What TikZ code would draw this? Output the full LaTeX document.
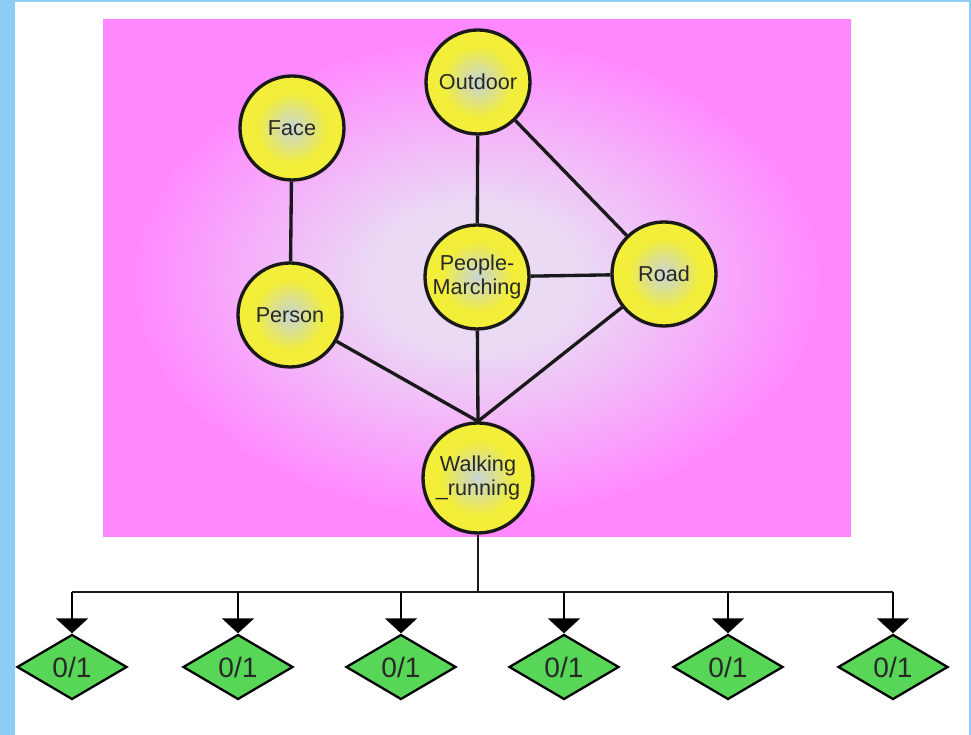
\documentclass[tikz,border=0pt]{standalone}
\usepackage{fontspec}
\setmainfont{Liberation Sans}
\usetikzlibrary{shapes.geometric,arrows.meta}

\definecolor{framecol}{RGB}{140,204,245}
\definecolor{bgin}{RGB}{234,218,244}
\definecolor{bgout}{RGB}{255,136,255}
\definecolor{ballin}{RGB}{200,212,212}
\definecolor{ballout}{RGB}{242,238,58}
\definecolor{leafcol}{RGB}{88,214,88}
\definecolor{labelcol}{RGB}{40,40,40}

\pgfdeclareradialshading{bgshade}{\pgfpoint{0bp}{0bp}}%
  {color(0bp)=(bgin); color(7bp)=(bgin); color(23bp)=(bgout); color(50bp)=(bgout)}
\pgfdeclareradialshading{ballshade}{\pgfpoint{0bp}{0bp}}%
  {color(0bp)=(ballin); color(8bp)=(ballin!55!ballout); color(17bp)=(ballout); color(50bp)=(ballout)}

\begin{document}
\begin{tikzpicture}[
  concept/.style={circle,draw=black!90,line width=1.9pt,shading=ballshade,
                  minimum size=2.08cm,inner sep=1pt,align=center,
                  font=\fontsize{12.3}{13.5}\selectfont,text=labelcol},
  leaf/.style={diamond,draw=black,line width=1.3pt,fill=leafcol,aspect=1.7,
               minimum width=2.2cm,minimum height=1.3cm,inner sep=0pt,
               font=\fontsize{16}{16}\selectfont,text=labelcol},
  link/.style={line width=1.9pt,black!90},
  arr/.style={line width=1.6pt,-{Triangle[length=8.5pt,width=18pt]}},
]
\useasboundingbox (0,0) rectangle (19.42,14.7);

% Frame
\fill[framecol] (0,0) rectangle (0.3,14.7);
\fill[framecol] (19.38,0) rectangle (19.42,14.7);
\fill[framecol] (0,14.66) rectangle (19.42,14.7);

% Background panel
\shade[shading=bgshade] (2.06,3.96) rectangle (17.02,14.3);

% Concepts
\node[concept] (outdoor) at (9.56,13.06) {Outdoor};
\node[concept] (face) at (5.84,12.14) {Face};
\node[concept] (person) at (5.80,8.40) {Person};
\node[concept] (march) at (9.54,9.16) {People-\\Marching};
\node[concept] (road) at (13.28,9.22) {Road};
\node[concept,minimum size=2.2cm] (walk) at (9.56,5.14) {Walking\\\_running};

% Links
\draw[link] (face) -- (person);
\draw[link] (outdoor) -- (march);
\draw[link] (outdoor) -- (road);
\draw[link] (march) -- (road);
\draw[link] (person) -- (walk.north);
\draw[link] (march) -- (walk.north);
\draw[link] (road) -- (walk.north);

% Outputs
\foreach \i/\x in {1/1.44,2/4.76,3/8.02,4/11.28,5/14.56,6/17.86}
  \node[leaf] (out\i) at (\x,1.36) {0/1};

\coordinate (bus) at (9.56,2.86);
\draw[link,line width=1.6pt] (walk.south) -- (bus);
\draw[link,line width=1.6pt] (out1.north |- bus) -- (out6.north |- bus);
\foreach \i in {1,...,6}
  \draw[arr] (out\i.north |- bus) -- (out\i.north);

\end{tikzpicture}
\end{document}
